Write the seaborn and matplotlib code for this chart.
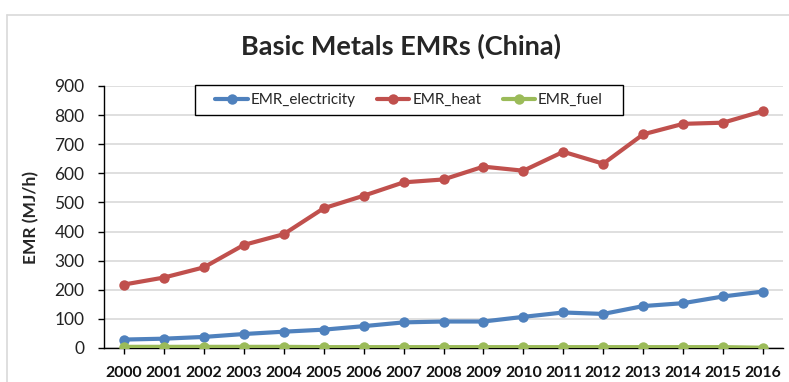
import matplotlib
matplotlib.use("Agg")
import matplotlib.pyplot as plt
from matplotlib.lines import Line2D
from matplotlib.patches import Rectangle
import numpy as np
import pandas as pd
import seaborn as sns

years = [str(y) for y in range(2000, 2017)]
emr_electricity = [29, 32, 38, 48, 56, 63, 75, 88, 91, 91, 107, 122, 117, 144, 154, 177, 194]
emr_heat = [218, 242, 277, 354, 391, 480, 523, 569, 579, 623, 609, 674, 633, 734, 770, 774, 814]
emr_fuel = [4, 4, 4, 4, 4, 3, 3, 3, 3, 3, 3, 3, 3, 3, 3, 3, 1]
series_names = ["EMR_electricity", "EMR_heat", "EMR_fuel"]
colors = ["#4F81BD", "#C0504D", "#9BBB59"]
y_ticks = list(range(0, 1000, 100))

sns.set_theme(style="white")
plt.rcParams["font.family"] = ["Lato", "DejaVu Sans"]

df = pd.DataFrame({
    "pos": list(range(len(years))) * 3,
    "value": emr_electricity + emr_heat + emr_fuel,
    "series": [s for s in series_names for _ in years],
})

W, H = 789, 382
fig = plt.figure(figsize=(W / 100, H / 100), dpi=100)
ax = fig.add_axes([104 / W, 1 - 348 / H, (783 - 104) / W, (348 - 86) / H])

sns.lineplot(data=df, x="pos", y="value", hue="series", hue_order=series_names,
             palette=colors, marker="o", markersize=7.5, markeredgewidth=0,
             linewidth=3, ax=ax, legend=False, zorder=3)

ax.set_xlim(-0.5, len(years) - 0.5)
ax.set_ylim(0, 900)
ax.set_yticks(y_ticks)
ax.set_yticklabels([str(v) for v in y_ticks], fontsize=12.5, color="#222222")
ax.set_xticks(range(len(years)))
ax.set_xticklabels(years, fontsize=11.4, fontweight="bold", color="#111111")
ax.set_xlabel("")
ax.set_ylabel("EMR (MJ/h)", fontsize=12.5, fontweight="bold", labelpad=11)
ax.yaxis.grid(True, color="#D9D9D9", linewidth=1.2)
ax.set_axisbelow(True)

for side in ["top", "right"]:
    ax.spines[side].set_visible(False)
for side in ["left", "bottom"]:
    ax.spines[side].set_color("black")
    ax.spines[side].set_linewidth(1.0)
ax.tick_params(axis="y", which="major", direction="out", length=4, width=1,
               color="black", left=True, pad=10)
ax.tick_params(axis="x", which="major", direction="out", length=4, width=1,
               color="black", bottom=True, pad=9)

handles = [Line2D([0], [0], color=c, lw=3, marker="o", markersize=7.5,
                  markeredgewidth=0) for c in colors]
leg = ax.legend(handles, series_names, ncol=3, loc="center",
                bbox_to_anchor=((409 - 104) / (783 - 104), (348 - 100) / (348 - 86)),
                frameon=False, fontsize=11, handlelength=2.1,
                columnspacing=1.4, handletextpad=0.2, borderpad=0.5,
                borderaxespad=0)
leg.set_zorder(6)

# legend frame with wider side padding, drawn above the lines but under the legend
frame = Rectangle((195 / W, 1 - 115 / H), (623 - 195) / W, 30 / H,
                  transform=fig.transFigure, facecolor="white",
                  edgecolor="black", linewidth=1.0, zorder=5, clip_on=False)
ax.add_artist(frame)

fig.suptitle("Basic Metals EMRs (China)", x=0.508, y=1 - 46 / H, va="center",
             fontsize=19.5, fontweight="bold")

# light chart-area border along the top and left
fig.add_artist(Line2D([7 / W, 1.0], [1 - 15 / H, 1 - 15 / H],
                      transform=fig.transFigure, color="#D9D9D9", lw=1.2))
fig.add_artist(Line2D([7 / W, 7 / W], [0.0, 1 - 15 / H],
                      transform=fig.transFigure, color="#D9D9D9", lw=1.2))

fig.savefig("out.png", dpi=100, facecolor="white")
